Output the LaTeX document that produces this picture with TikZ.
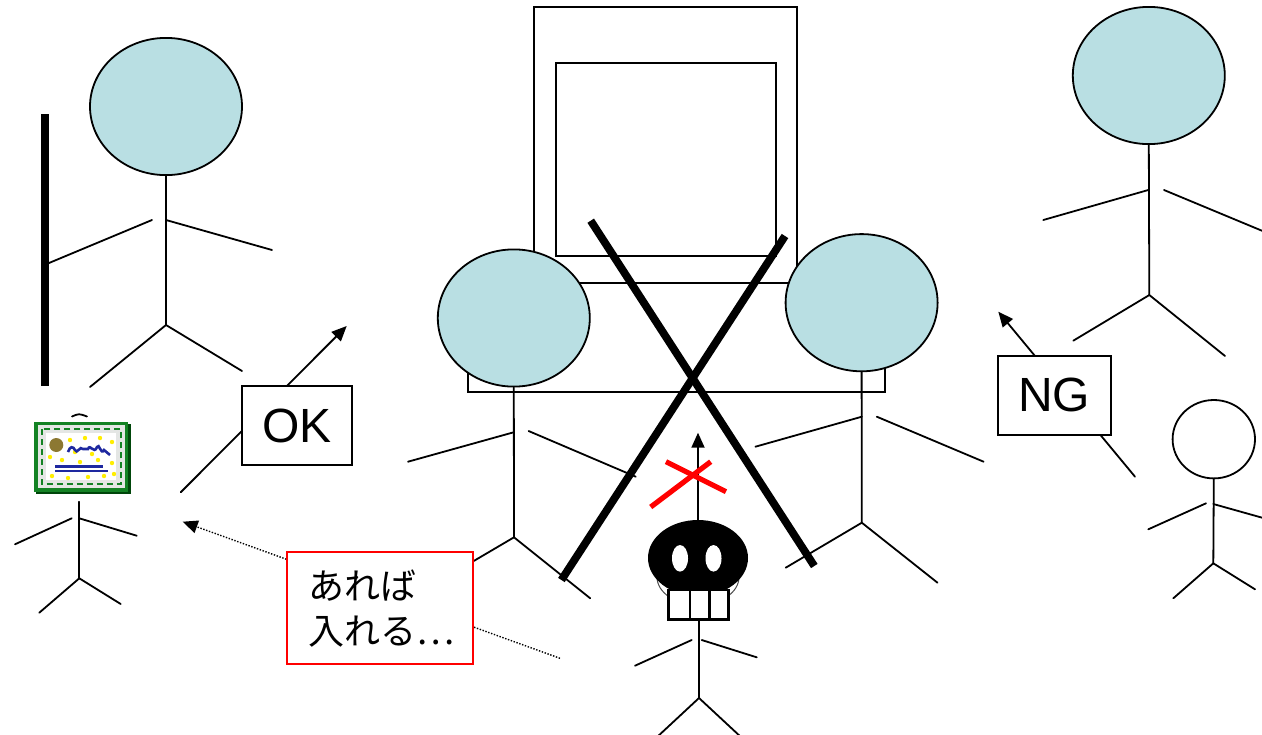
\documentclass[tikz,border=0pt]{standalone}
\usepackage{fontspec}
\setmainfont{Liberation Sans}
\newfontfamily\jpfont{Noto Sans CJK JP}
\usetikzlibrary{arrows.meta,shapes.geometric}

\definecolor{headblue}{RGB}{185,223,227}
\definecolor{certgreen}{RGB}{20,130,36}
\definecolor{certshade}{RGB}{0,70,10}
\definecolor{certband}{RGB}{228,230,228}
\definecolor{sealolive}{RGB}{140,120,50}
\definecolor{inkblue}{RGB}{30,40,160}
\definecolor{dotyellow}{RGB}{255,238,0}

\tikzset{
  stroke/.style={line width=0.9pt, line cap=round},
  heavy/.style={line width=3.9pt},
  head/.style={ellipse, draw, line width=0.9pt, fill=headblue, inner sep=0pt,
               minimum width=76pt, minimum height=68.6pt},
  labelbox/.style={draw, line width=0.9pt, fill=white, inner sep=0pt,
                   font=\fontsize{24pt}{28pt}\selectfont},
  tip/.style={-{Triangle[length=7.5pt,width=6.5pt]}},
}

\begin{document}
\begin{tikzpicture}[x=0.5pt,y=-0.5pt]
\useasboundingbox (0,0) rectangle (1262,734);
\clip (0,0) rectangle (1262,734);

% ---- terminal: screen, frame and desk ----
\draw[stroke] (534,7.3) rectangle (797.3,282.7);
\draw[stroke] (556,62.7) rectangle (776,255.7);
\draw[stroke] (468,282.7) rectangle (885,392.3);

% ---- figure with a pole (top left) ----
\node[head] (headA) at (166,106.5) {};
\coordinate (hipA) at (166,325);
\draw[stroke] (headA.south) -- (hipA);
\draw[stroke] (49,263) -- (152,220);
\draw[stroke] (166,220) -- (272,250);
\draw[stroke] (90,387) -- (hipA) -- (242,371);
\draw[heavy] (45,114) -- (45,386);

% ---- two figures at the terminal ----
\node[head] (headB) at (513.8,318) {};
\coordinate (hipB) at (514,537.3);
\draw[stroke] (headB.south) -- (hipB);
\draw[stroke] (408,461.7) -- (513.6,432.3);
\draw[stroke] (528.6,431) -- (635.7,476.7);
\draw[stroke] (455,572) -- (hipB) -- (590.2,598.3);

\node[head] (headC) at (861.6,302.7) {};
\coordinate (hipC) at (861.8,522.7);
\draw[stroke] (headC.south) -- (hipC);
\draw[stroke] (755.4,446.7) -- (861.8,416.7);
\draw[stroke] (876.8,416.7) -- (983.6,461.7);
\draw[stroke] (785.7,567.7) -- (hipC) -- (937.5,582.7);

% ---- figure at the top right ----
\node[head] (headE) at (1148.8,75.5) {};
\coordinate (hipE) at (1149.3,295);
\draw[stroke] (headE.south) -- (hipE);
\draw[stroke] (1043.3,220) -- (1148.3,190);
\draw[stroke] (1164,190) -- (1265,232);
\draw[stroke] (1073.3,340.7) -- (hipE) -- (1225,356);

% ---- small figure on the right ----
\node[ellipse, draw, line width=0.9pt, fill=white, inner sep=0pt,
      minimum width=41.2pt, minimum height=39.2pt] (headF) at (1213.8,439.2) {};
\coordinate (hipF) at (1213.3,563.3);
\draw[stroke] (headF.south) -- (hipF);
\draw[stroke] (1148.3,529.3) -- (1206,503.3);
\draw[stroke] (1213.3,504) -- (1265,518.5);
\draw[stroke] (1173.3,598.3) -- (hipF) -- (1255,589.3);

% ---- figure holding a certificate (left) ----
\coordinate (neckD) at (79.3,501.7);
\coordinate (hipD) at (79.3,578.3);
\draw[stroke] (72,416.5) .. controls (79,413.5) .. (87,416.5);
\draw[stroke] (neckD) -- (hipD);
\draw[stroke] (15,544.3) -- (71.7,518.3);
\draw[stroke] (79.3,518.3) -- (136.7,535.7);
\draw[stroke] (39.3,612.7) -- (hipD) -- (120.7,604);
% certificate
\fill[certshade] (36,424) rectangle (130.5,494);
\fill[certgreen] (34,421.7) rectangle (128,491.7);
\fill[certband] (38,425) rectangle (124.7,488.3);
\draw[certgreen, line width=1.1pt, dash pattern=on 3pt off 2pt] (42,429) rectangle (120.7,484.3);
\fill[white] (46.3,433.3) rectangle (116.3,480);
\foreach \p in {(70,440),(85,438),(100,438),(112,442),(50,457),(62,460),(80,462),(98,460),(112,463),
                (52,476),(68,478),(88,477),(104,476),(114,474),(75,452),(92,454)}
  \fill[dotyellow] \p circle (2.2);
\fill[sealolive] (56.3,445) circle (7);
\draw[inkblue, line width=1.3pt] (68,452) .. controls (70,446) and (73,446) .. (75,450)
      .. controls (77,455) and (80,445) .. (83,449) -- (88,449)
      .. controls (90,443) and (94,455) .. (97,447) .. controls (99,442) and (101,456) .. (104,450)
      -- (110,455);
\draw[inkblue, line width=1.3pt] (55,466.7) -- (103,466.7);
\draw[inkblue, line width=1.3pt] (55,470.8) -- (108,470.8);

% ---- the large cross over the terminal ----
\draw[heavy] (590.7,220.7) -- (814.3,566);
\draw[heavy] (785,236) -- (561.4,580);

% ---- skull figure ----
\node[ellipse, inner sep=0pt, minimum width=50pt, minimum height=38pt] (skull) at (698,558) {};
\coordinate (aim) at (698,432.7);
\draw[stroke, tip] (skull.north) -- (aim);
\draw[red, line width=2.6pt] (666,461.7) -- (726,491.7);
\draw[red, line width=2.6pt] (650.7,507) -- (710.7,461.7);
\draw[black!70, line width=0.5pt] (698,577) ellipse [x radius=41, y radius=28];
\node[ellipse, fill=black, inner sep=0pt, minimum width=50pt, minimum height=38pt] at (skull) {};
\fill[white] (680,558.3) ellipse [x radius=8, y radius=13.3];
\fill[white] (713.5,558.3) ellipse [x radius=8, y radius=13.3];
\node[draw, line width=1.3pt, fill=white, inner sep=0pt, minimum width=30pt, minimum height=14.6pt]
  (teeth) at (698.3,604.6) {};
\draw[line width=1.3pt] (690,590) -- (690,619.3);
\draw[line width=1.3pt] (709.3,590) -- (709.3,619.3);
\coordinate (hipS) at (699,698);
\draw[stroke] (teeth.south -| hipS) -- (hipS);
\draw[stroke] (635,665.7) -- (691.7,640);
\draw[stroke] (701.7,640) -- (756.7,657.3);
\draw[stroke] (656,738) -- (hipS) -- (742,738);

% ---- OK / NG arrows with their labels ----
\coordinate (okfrom) at (180.7,492.3);
\coordinate (okto) at (346.7,326);
\draw[stroke, tip] (okfrom) -- (okto);
\node[labelbox, minimum width=55.3pt, minimum height=39.5pt] (okbox) at (297,425.5) {OK};

\coordinate (ngfrom) at (1135,476.7);
\coordinate (ngto) at (998.3,311.7);
\draw[stroke, tip] (ngfrom) -- (ngto);
\node[labelbox, minimum width=56.65pt, minimum height=39.65pt] (ngbox) at (1054.3,395.3) {NG};

% ---- dotted arrow with its note ----
\coordinate (notefrom) at (560,658.3);
\coordinate (noteto) at (182.7,521.7);
\draw[line width=0.7pt, dash pattern=on 0.7pt off 0.8pt, -{Triangle[length=7.5pt,width=6.5pt]}] (notefrom) -- (noteto);
\node[draw=red, line width=0.9pt, fill=white, minimum width=93pt, minimum height=55.85pt,
      text width=71pt, align=left, inner xsep=11pt, inner ysep=0pt,
      font=\jpfont\fontsize{18pt}{22.5pt}\selectfont] (note) at (379.7,608.2) {あれば\\入れる…};
\end{tikzpicture}
\end{document}
